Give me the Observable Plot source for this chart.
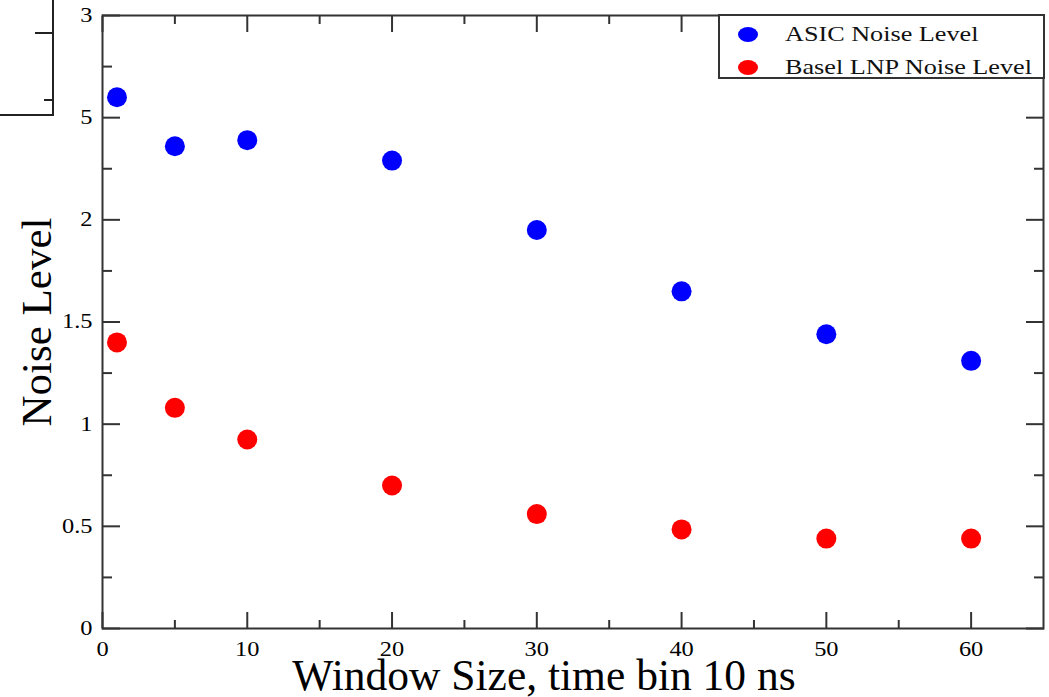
<!DOCTYPE html>
<html><head><meta charset="utf-8">
<script src="https://cdn.jsdelivr.net/npm/d3@7"></script>
<script src="https://cdn.jsdelivr.net/npm/@observablehq/plot@0.6"></script>
<style>
html,body{margin:0;padding:0;background:#fff;}
#wrap{position:relative;width:1049px;height:697px;overflow:hidden;font-family:"Liberation Serif","Times New Roman",serif;}
#legend{position:absolute;left:718px;top:14px;width:323px;height:61px;border:2px solid #333;background:#fff;box-sizing:content-box;}
#legend .row{position:absolute;left:0;height:30px;width:100%;}
#legend .sw{position:absolute;left:18px;width:20px;height:15px;border-radius:50%;}
#legend .lb{position:absolute;left:65px;font-size:22px;line-height:22px;color:#111;white-space:nowrap;transform:scaleX(1.19);transform-origin:0 50%;}
#frag{position:absolute;left:0;top:0;width:52px;height:114px;border-right:2px solid #222;border-bottom:2px solid #222;background:#fff;}
.fragtick{position:absolute;height:2px;background:#222;}
svg text{font-family:"Liberation Serif","Times New Roman",serif;}
</style></head><body><div id="wrap"></div>
<script>
const windowSizes = [1, 5, 10, 20, 30, 40, 50, 60];
const asicNoise = [2.60, 2.36, 2.39, 2.29, 1.95, 1.65, 1.44, 1.31];
const baselNoise = [1.40, 1.08, 0.925, 0.70, 0.56, 0.485, 0.44, 0.44];
const seriesNames = ["ASIC Noise Level", "Basel LNP Noise Level"];
const seriesColors = ["#0000ff", "#ff0000"];
const xMajorTicks = [0, 10, 20, 30, 40, 50, 60];
const xMinorTicks = [5, 15, 25, 35, 45, 55];
const yMajorTicks = [0, 0.5, 1, 1.5, 2, 2.5, 3];
const yMinorTicks = [0.25, 0.75, 1.25, 1.75, 2.25, 2.75];
const yTickLabels = ["0", "0.5", "1", "1.5", "2", "5", "3"];
const xTitle = "Window Size, time bin 10 ns";
const yTitle = "Noise Level";

const data = windowSizes.flatMap((w, i) => [
  {w, v: asicNoise[i], s: seriesNames[0]},
  {w, v: baselNoise[i], s: seriesNames[1]}
]);

const axisColor = "#333";
const blank = () => "";

const chart = Plot.plot({
  width: 1049,
  height: 697,
  marginLeft: 102,
  marginRight: 6,
  marginTop: 15,
  marginBottom: 69,
  style: {fontFamily: "'Liberation Serif','Times New Roman',serif", fontSize: "20px", background: "#fff", color: "#000"},
  x: {domain: [0, 65]},
  y: {domain: [0, 3]},
  color: {domain: seriesNames, range: seriesColors},
  marks: [
    Plot.dot(data, {x: "w", y: "v", fill: "s", r: 10, stroke: null}),
    Plot.axisX(xMajorTicks, {anchor: "bottom", tickSize: -16, tickPadding: 29, fontSize: 20, stroke: axisColor, strokeWidth: 2, fill: "#000", label: null}),
    Plot.axisX(xMinorTicks, {anchor: "bottom", tickSize: -8, tickFormat: blank, stroke: axisColor, strokeWidth: 2, label: null}),
    Plot.axisX(xMajorTicks, {anchor: "top", tickSize: -16, tickFormat: blank, stroke: axisColor, strokeWidth: 2, label: null}),
    Plot.axisX(xMinorTicks, {anchor: "top", tickSize: -8, tickFormat: blank, stroke: axisColor, strokeWidth: 2, label: null}),
    Plot.axisY(yMajorTicks, {anchor: "left", tickSize: -18, tickPadding: 28, fontSize: 20, stroke: axisColor, strokeWidth: 2, fill: "#000",
      tickFormat: d => yTickLabels[yMajorTicks.indexOf(d)], label: null}),
    Plot.axisY(yMinorTicks, {anchor: "left", tickSize: -10, tickFormat: blank, stroke: axisColor, strokeWidth: 2, label: null}),
    Plot.axisY(yMajorTicks, {anchor: "right", tickSize: -18, tickFormat: blank, stroke: axisColor, strokeWidth: 2, label: null}),
    Plot.axisY(yMinorTicks, {anchor: "right", tickSize: -10, tickFormat: blank, stroke: axisColor, strokeWidth: 2, label: null}),
    Plot.frame({stroke: axisColor, strokeWidth: 2}),
    Plot.text([xTitle], {text: d => d, frameAnchor: "bottom", textAnchor: "middle", lineAnchor: "bottom", dy: 61, dx: -29, fontSize: 43.5, fill: "#000"}),
    Plot.text([yTitle], {text: d => d, frameAnchor: "left", textAnchor: "middle", rotate: -90, dx: -65, fontSize: 43, fill: "#000"})
  ]
});

// the reference's tick numerals are slightly stretched horizontally
chart.querySelectorAll('g[aria-label$="tick label"] text').forEach(t => {
  const tr = t.getAttribute("transform") || "";
  t.setAttribute("transform", (tr + " scale(1.22,1)").trim());
});

const wrap = document.getElementById("wrap");
wrap.appendChild(chart);

// legend
const legend = document.createElement("div");
legend.id = "legend";
const rowTops = [3, 36];
seriesNames.forEach((name, i) => {
  const row = document.createElement("div");
  row.className = "row";
  row.style.top = rowTops[i] + "px";
  const sw = document.createElement("div");
  sw.className = "sw";
  sw.style.background = seriesColors[i];
  sw.style.top = "8px";
  const lb = document.createElement("div");
  lb.className = "lb";
  lb.style.top = "4px";
  lb.textContent = name;
  row.appendChild(sw);
  row.appendChild(lb);
  legend.appendChild(row);
});
wrap.appendChild(legend);

// fragment of a neighbouring frame at top-left
const frag = document.createElement("div");
frag.id = "frag";
wrap.appendChild(frag);
[[32, 35, 18], [99, 44, 9]].forEach(([t, l, w]) => {
  const d = document.createElement("div");
  d.className = "fragtick";
  d.style.top = t + "px"; d.style.left = l + "px"; d.style.width = w + "px";
  wrap.appendChild(d);
});
</script>
</body></html>
